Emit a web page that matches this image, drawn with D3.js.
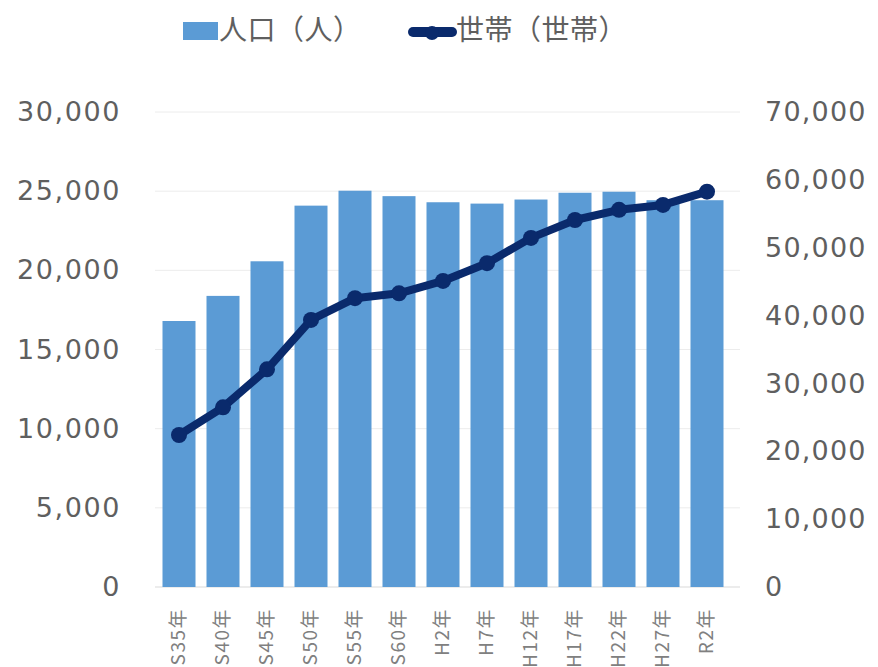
<!DOCTYPE html>
<html>
<head>
<meta charset="utf-8">
<script src="https://cdn.jsdelivr.net/npm/d3@7"></script>
<style>
  html, body { margin: 0; padding: 0; background: #fff; }
  svg { display: block; }
</style>
</head>
<body>
<svg id="chart" width="878" height="667"></svg>
<script>
// Census years
const years = ["S35年","S40年","S45年","S50年","S55年","S60年","H2年","H7年","H12年","H17年","H22年","H27年","R2年"];
// Population (persons) – bars, right axis
const population = [39200, 42900, 48000, 56200, 58400, 57600, 56700, 56500, 57100, 58100, 58250, 57000, 57000];
// Households – line, left axis
const households = [9600, 11350, 13750, 16870, 18240, 18550, 19330, 20450, 22050, 23180, 23820, 24130, 24970];
const leftTicks = [0, 5000, 10000, 15000, 20000, 25000, 30000];
const rightTicks = [0, 10000, 20000, 30000, 40000, 50000, 60000, 70000];
const legendLabels = ["人口（人）", "世帯（世帯）"];

const barColor = "#5b9bd5";
const lineColor = "#0a2a6c";
const textColor = "#5f5f5f";
const numFont = "'DejaVu Sans', Verdana, sans-serif";
const jpFont = "'Noto Sans CJK JP', 'Noto Sans', sans-serif";

const svg = d3.select("#chart");
const fmt = d3.format(",");

const x = d3.scaleBand().domain(years).range([151.5, 734.5]).padding(0.25);
const yLeft = d3.scaleLinear().domain([0, 30000]).range([587, 112]);
const yRight = d3.scaleLinear().domain([0, 70000]).range([587, 112]);

// Horizontal gridlines
svg.append("g")
  .selectAll("line")
  .data(leftTicks)
  .join("line")
  .attr("x1", 155).attr("x2", 740)
  .attr("y1", d => yLeft(d)).attr("y2", d => yLeft(d))
  .attr("stroke", d => d === 0 ? "#d9d9d9" : "#ececec")
  .attr("stroke-width", 1);

// Left axis (households)
const leftAxis = svg.append("g")
  .attr("transform", "translate(121,0)")
  .call(d3.axisLeft(yLeft).tickValues(leftTicks).tickFormat(fmt).tickSize(0).tickPadding(0));
leftAxis.select(".domain").remove();
leftAxis.selectAll("text")
  .attr("fill", textColor)
  .style("font-family", numFont)
  .style("font-size", "27px")
  .style("letter-spacing", "1.6px");

// Right axis (population)
const rightAxis = svg.append("g")
  .attr("transform", "translate(765,0)")
  .call(d3.axisRight(yRight).tickValues(rightTicks).tickFormat(fmt).tickSize(0).tickPadding(0));
rightAxis.select(".domain").remove();
rightAxis.selectAll("text")
  .attr("fill", textColor)
  .style("font-family", numFont)
  .style("font-size", "27px")
  .style("letter-spacing", "1.2px");

// Bars
svg.append("g")
  .selectAll("rect")
  .data(years)
  .join("rect")
  .attr("x", d => x(d))
  .attr("width", x.bandwidth())
  .attr("y", (d, i) => yRight(population[i]))
  .attr("height", (d, i) => yRight(0) - yRight(population[i]))
  .attr("fill", barColor);

// Category axis
const xAxis = svg.append("g")
  .attr("transform", "translate(0,587)")
  .call(d3.axisBottom(x).tickSize(0).tickPadding(0));
xAxis.select(".domain").remove();
xAxis.selectAll("text")
  .attr("fill", "#808080")
  .attr("transform", "translate(-1,21) rotate(-90)")
  .attr("dy", "0.35em")
  .attr("x", 0).attr("y", 0)
  .style("text-anchor", "end")
  .style("font-family", jpFont)
  .style("font-size", "19px")
  .style("letter-spacing", "1.5px");

// Households line
const cx = d => x(d) + x.bandwidth() / 2;
const line = d3.line()
  .x(d => cx(d))
  .y((d, i) => yLeft(households[i]));
svg.append("path")
  .datum(years)
  .attr("d", line)
  .attr("fill", "none")
  .attr("stroke", lineColor)
  .attr("stroke-width", 8)
  .attr("stroke-linejoin", "round");
svg.append("g")
  .selectAll("circle")
  .data(years)
  .join("circle")
  .attr("cx", d => cx(d))
  .attr("cy", (d, i) => yLeft(households[i]))
  .attr("r", 8)
  .attr("fill", lineColor);

// Legend
const legend = svg.append("g");
legend.append("rect")
  .attr("x", 183).attr("y", 22).attr("width", 35).attr("height", 18)
  .attr("fill", barColor);
legend.append("text")
  .attr("x", 219).attr("y", 40)
  .attr("fill", textColor)
  .style("font-family", jpFont)
  .style("font-size", "28px")
  .style("letter-spacing", "0.5px")
  .text(legendLabels[0]);
legend.append("line")
  .attr("x1", 413).attr("x2", 452).attr("y1", 32).attr("y2", 32)
  .attr("stroke", lineColor).attr("stroke-width", 10).attr("stroke-linecap", "round");
legend.append("circle")
  .attr("cx", 432).attr("cy", 33).attr("r", 7).attr("fill", lineColor);
legend.append("text")
  .attr("x", 456).attr("y", 40)
  .attr("fill", textColor)
  .style("font-family", jpFont)
  .style("font-size", "28px")
  .style("letter-spacing", "0.5px")
  .text(legendLabels[1]);
</script>
</body>
</html>
